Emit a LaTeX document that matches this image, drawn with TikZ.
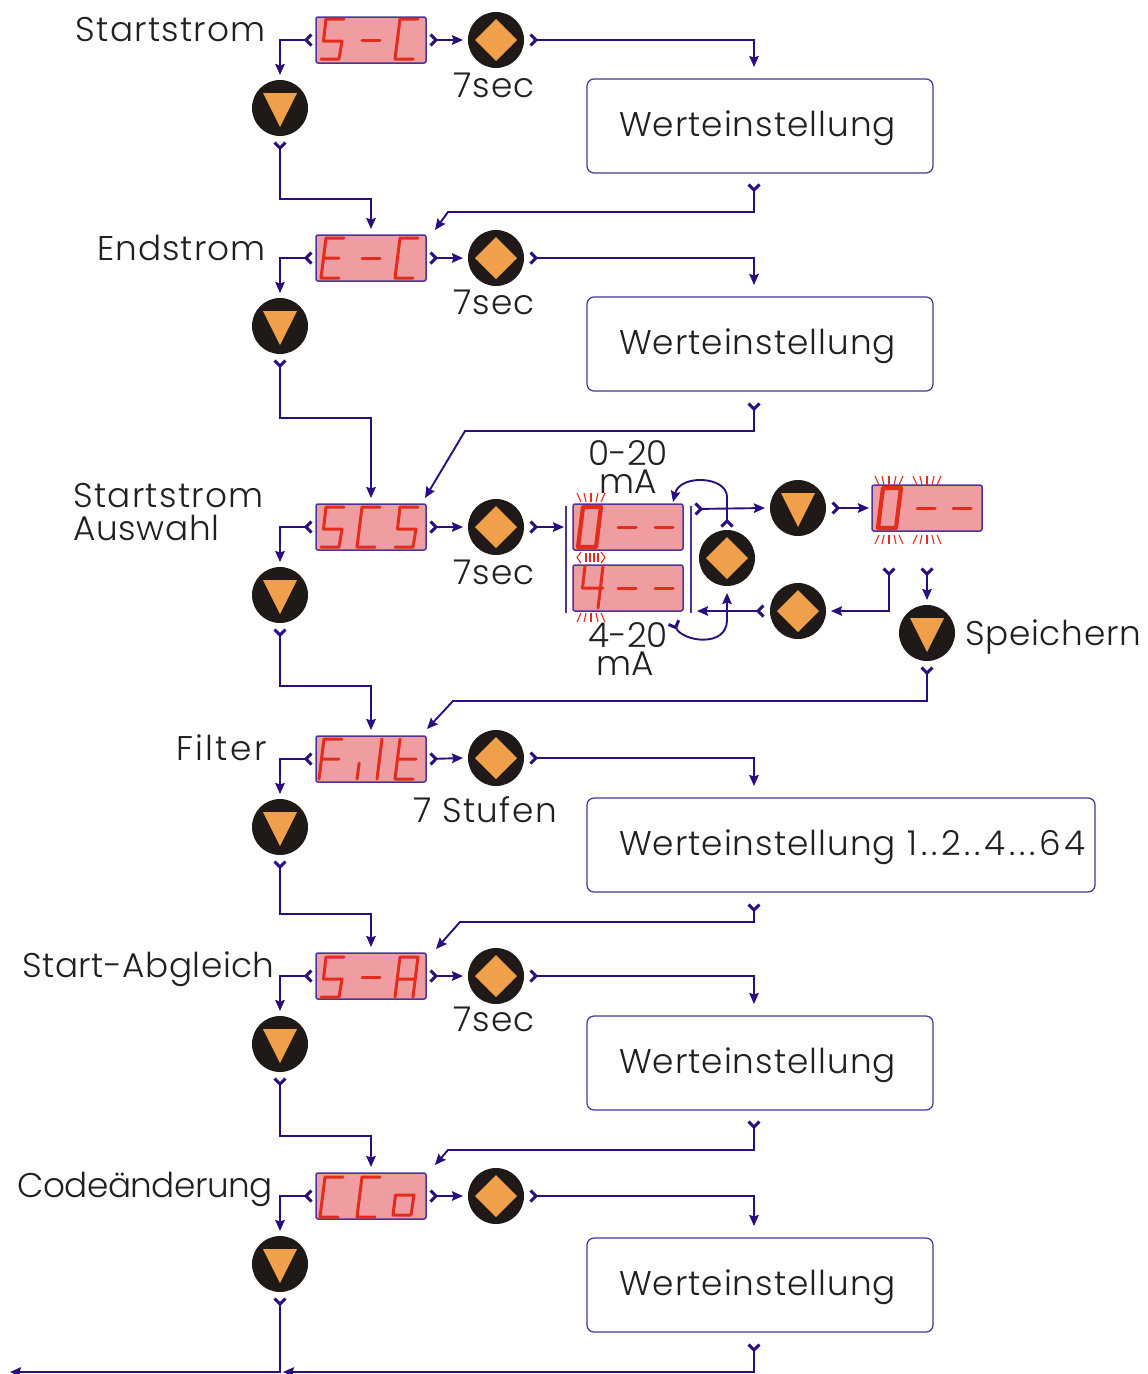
\documentclass[tikz,border=0pt]{standalone}
\usepackage{fontspec}
\setmainfont{Poppins Light}
\usetikzlibrary{arrows.meta,calc}

\definecolor{flowblue}{HTML}{2A0E7F}
\definecolor{dispedge}{HTML}{4A3596}
\definecolor{dispfill}{HTML}{F09DA2}
\definecolor{segred}{HTML}{E12D1A}
\definecolor{btnblack}{HTML}{1F1A17}
\definecolor{btnorange}{HTML}{F0A04B}
\definecolor{labelgray}{HTML}{231F20}

\tikzset{
    chev/.tip={Straight Barb[reversed,length=1.1mm,width=2.2mm,line width=.6mm]},
    head/.tip={Stealth[length=2.2mm,width=1.9mm,inset=.3mm]},
    flow/.style={draw=flowblue,line width=.38mm,{chev}-{head}},
    display/.style={rectangle,draw=dispedge,fill=dispfill,line width=.3mm,rounded corners=.4mm,
                    minimum width=22mm,minimum height=9.2mm,inner sep=0pt,outer sep=.6mm},
    seg/.style={draw=segred,line width=.6mm,line cap=round,line join=round},
    ray/.style={draw=segred,line width=.22mm},
    downbtn/.style={circle,fill=btnblack,minimum size=11.2mm,inner sep=0pt,outer sep=1mm,
                    path picture={\fill[btnorange]
                        ([shift={(-17,-15)}]path picture bounding box.center) --
                        ([shift={(17,-15)}]path picture bounding box.center) --
                        ([shift={(0,19)}]path picture bounding box.center) -- cycle;}},
    setbtn/.style={circle,fill=btnblack,minimum size=11.2mm,inner sep=0pt,outer sep=1mm,
                    path picture={\fill[btnorange]
                        ([shift={(-21,0)}]path picture bounding box.center) --
                        ([shift={(0,-21)}]path picture bounding box.center) --
                        ([shift={(21,0)}]path picture bounding box.center) --
                        ([shift={(0,21)}]path picture bounding box.center) -- cycle;}},
    wertbox/.style={rectangle,draw=dispedge,line width=.25mm,rounded corners=1.4mm,fill=white,
                    text width=56.4mm,inner xsep=6.4mm,minimum height=18.8mm,align=left,text height=5.9mm,
                    font=\fontsize{19.5pt}{23pt}\selectfont\addfontfeatures{LetterSpace=3},text=labelgray},
    caption/.style={font=\fontsize{19.5pt}{18.4pt}\selectfont\addfontfeatures{LetterSpace=#1},
                    text=labelgray,inner sep=0pt},
    caption/.default=3,
    rangecap/.style={font=\fontsize{19.5pt}{15.4pt}\selectfont,text=labelgray,inner sep=0pt,align=center},
    % seven segment glyphs, top left corner at the pic origin
    segS/.pic={\draw[seg] (23,0) -- (5,0) -- (2.5,22) -- (21,22) -- (18,40) -- (0,40);},
    segM/.pic={\draw[seg] (0,21) -- (18,21);},
    segC/.pic={\draw[seg] (23,0) -- (5,0) -- (0,40) -- (18,40);},
    segE/.pic={\draw[seg] (23,0) -- (5,0) -- (0,40) -- (18,40) (2.5,20) -- (18,20);},
    segF/.pic={\draw[seg] (23,0) -- (5,0) -- (0,40) (2.5,20) -- (20,20);},
    segI/.pic={\draw[seg] (2.2,24) -- (0,40);},
    segL/.pic={\draw[seg] (5,0) -- (0,40);},
    segT/.pic={\draw[seg] (5,0) -- (0,40) -- (18,40) (2.5,20) -- (21,20);},
    segA/.pic={\draw[seg] (0,40) -- (5,0) -- (23,0) -- (18,40) (2.5,22) -- (20.5,22);},
    segO/.pic={\draw[seg] (2.5,20) -- (21,20) -- (18,40) -- (0,40) -- cycle;},
    segN/.pic={\draw[seg,line width=.85mm] (5,0) -- (23,0) -- (18,40) -- (0,40) -- cycle;},
    segV/.pic={\draw[seg] (5,0) -- (2.5,22) -- (23,22) (23,0) -- (18,42);},
}
% fan of short rays round a blinking digit
\newcommand{\rayfan}[3]{
    \foreach \ddx/\dtx in {-10/-14,-5/-7,0/0,5/7,10/14}
        \draw[ray] (#1+\ddx,#2) -- (#1+\dtx,#2+#3);
}

\begin{document}
\begin{tikzpicture}[x=.2mm,y=-.2mm]
    \useasboundingbox (0,0) rectangle (1147,1374);

    % left column captions
    \node at (266, 30) (cstart)  [caption=3.6,anchor=east] {Startstrom};
    \node at (266,248) (cend)    [caption=3,anchor=east] {Endstrom};
    \node at ( 73,512) (csel)    [caption=3.8,anchor=west,align=left] {Startstrom\\{\addfontfeatures{LetterSpace=2}Auswahl}};
    \node at (267,748) (cfilt)   [caption=7,anchor=east] {Filter};
    \node at (275,969) (cadj)    [caption=1.5,anchor=east] {Start-Abgleich};
    \node at (273,1189) (ccode)  [caption=-1.5,anchor=east] {Codeänderung};

    % displays
    \node at (371,  40) (dsc)  [display] {};
    \node at (371, 258) (dec)  [display] {};
    \node at (371, 527) (dscs) [display] {};
    \node at (371, 759) (dfilt)[display] {};
    \node at (371, 976) (dsa)  [display] {};
    \node at (371,1196) (dcco) [display] {};
    \node at (628, 527) (dnull)[display] {};
    \node at (628, 588) (dvier)[display] {};
    \node at (927, 508) (dblink)[display] {};

    \pic at (321,  19) {segS}; \pic at (362,  19) {segM}; \pic at (395,  19) {segC};
    \pic at (321, 238) {segE}; \pic at (362, 237) {segM}; \pic at (395, 238) {segC};
    \pic at (321, 507) {segS}; \pic at (357, 507) {segC}; \pic at (395, 507) {segS};
    \pic at (319, 739) {segF}; \pic at (357, 739) {segI}; \pic at (377, 739) {segL}; \pic at (395, 739) {segT};
    \pic at (321, 957) {segS}; \pic at (362, 956) {segM}; \pic at (395, 957) {segA};
    \pic at (320,1177) {segC}; \pic at (357,1177) {segC}; \pic at (393,1175) {segO};

    \pic at (578, 507) {segN}; \pic at (618, 506) {segM}; \pic at (655, 506) {segM};
    \pic at (580, 566) {segV}; \pic at (618, 567) {segM}; \pic at (655, 567) {segM};
    \pic at (878, 488) {segN}; \pic at (917, 487) {segM}; \pic at (953, 487) {segM};

    \rayfan{591}{502}{-9}
    \rayfan{591}{613}{9}
    \rayfan{889}{485}{-9}
    \rayfan{927}{485}{-9}
    \rayfan{889}{535}{9}
    \rayfan{927}{535}{9}
    \draw[ray] (581,552) -- (577,557.5) -- (581,563) (601,552) -- (605,557.5) -- (601,563);
    \foreach \rx in {586,590,594,598}
        \draw[ray] (\rx,553) -- (\rx,562);

    % brackets round the two range displays
    \draw[dispedge,line width=.3mm] (566,506) -- (566,613) (691,506) -- (691,613);

    % buttons
    \node at (280, 108) (bd1) [downbtn] {};
    \node at (280, 326) (bd2) [downbtn] {};
    \node at (280, 595) (bd3) [downbtn] {};
    \node at (280, 827) (bd4) [downbtn] {};
    \node at (280,1044) (bd5) [downbtn] {};
    \node at (280,1264) (bd6) [downbtn] {};
    \node at (496,  40) (bs1) [setbtn] {};
    \node at (496, 258) (bs2) [setbtn] {};
    \node at (496, 527) (bs3) [setbtn] {};
    \node at (496, 758) (bs4) [setbtn] {};
    \node at (496, 976) (bs5) [setbtn] {};
    \node at (496,1196) (bs6) [setbtn] {};
    \node at (727, 558) (bsmid) [setbtn] {};
    \node at (798, 611) (bslow) [setbtn] {};
    \node at (798, 508) (bdup)  [downbtn] {};
    \node at (927, 633) (bdsave)[downbtn] {};

    % value boxes
    \node at (760, 126) (w1) [wertbox] {Werteinstellung};
    \node at (760, 344) (w2) [wertbox] {Werteinstellung};
    \node at (841, 845) (w4) [wertbox,text width=88.8mm] {\mbox{Werteinstellung {\addfontfeatures{LetterSpace=11}1..2..4...64}}};
    \node at (760,1063) (w5) [wertbox] {Werteinstellung};
    \node at (760,1285) (w6) [wertbox] {Werteinstellung};

    % other labels
    \node at (494,  85) (t1) [caption] {7sec};
    \node at (494, 302) (t2) [caption] {7sec};
    \node at (494, 572) (t3) [caption] {7sec};
    \node at (485, 810) (t4) [caption=4] {7 Stufen};
    \node at (494,1019) (t5) [caption] {7sec};
    \node at (628, 467) (tnull) [rangecap] {0-20\\mA};
    \node at (628, 649) (tvier) [rangecap] {4-20\\mA\hspace*{1mm}};
    \node at (965, 637) (tsave) [caption=2,anchor=west] {Speichern};

    % free ends of the connectors
    \coordinate (w1in)  at (754,  67);
    \coordinate (w1out) at (754, 183);
    \coordinate (w2in)  at (754, 285);
    \coordinate (w2out) at (754, 402);
    \coordinate (w4in)  at (754, 786);
    \coordinate (w4out) at (754, 903);
    \coordinate (w5in)  at (754,1004);
    \coordinate (w5out) at (754,1120);
    \coordinate (w6in)  at (754,1226);
    \coordinate (w6out) at (754,1343);
    \coordinate (ecin)  at (435, 230);
    \coordinate (scsin) at (425, 498);
    \coordinate (ftin)  at (427, 729);
    \coordinate (sain)  at (436, 949);
    \coordinate (ccin)  at (435,1165);
    \coordinate (exit)  at (10,1372);
    \coordinate (merge) at (283,1372);
    \coordinate (rngin) at (564, 527);
    \coordinate (rngout) at (694, 509);
    \coordinate (rngback) at (697, 611);
    \coordinate (upin)   at (673, 502);
    \coordinate (upout)  at (727, 528);
    \coordinate (lowout) at (673, 621);
    \coordinate (lowin)  at (727, 593);
    \coordinate (blinka) at (889, 567);
    \coordinate (blinkb) at (927, 567);

    % display to down button
    \draw[flow] (dsc.west)   -| (bd1.north);
    \draw[flow] (dec.west)   -| (bd2.north);
    \draw[flow] (dscs.west)  -| (bd3.north);
    \draw[flow] (dfilt.west) -| (bd4.north);
    \draw[flow] (dsa.west)   -| (bd5.north);
    \draw[flow] (dcco.west)  -| (bd6.north);

    % display to set button
    \draw[flow] (dsc.east)   -- (bs1.west);
    \draw[flow] (dec.east)   -- (bs2.west);
    \draw[flow] (dscs.east)  -- (bs3.west);
    \draw[flow] (dfilt.east) -- (bs4.west);
    \draw[flow] (dsa.east)   -- (bs5.west);
    \draw[flow] (dcco.east)  -- (bs6.west);

    % set button to value box
    \draw[flow] (bs1.east) -| (w1in);
    \draw[flow] (bs2.east) -| (w2in);
    \draw[flow] (bs4.east) -| (w4in);
    \draw[flow] (bs5.east) -| (w5in);
    \draw[flow] (bs6.east) -| (w6in);

    % down button to next display
    \draw[flow,shorten >=.6mm] (bd1.south) |- (371,199) -- (dec.north);
    \draw[flow,shorten >=.6mm] (bd2.south) |- (371,418) -- (dscs.north);
    \draw[flow,shorten >=.6mm] (bd3.south) |- (371,686) -- (dfilt.north);
    \draw[flow,shorten >=.6mm] (bd4.south) |- (371,914) -- (dsa.north);
    \draw[flow,shorten >=.6mm] (bd5.south) |- (371,1136) -- (dcco.north);
    \draw[flow] (bd6.south) |- (exit);

    % value box back to next display
    \draw[flow] (w1out) -- (754, 212) -- (448, 212) -- (ecin);
    \draw[flow] (w2out) -- (754, 431) -- (465, 431) -- (scsin);
    \draw[flow] (w4out) -- (754, 922) -- (460, 922) -- (sain);
    \draw[flow] (w5out) -- (754,1150) -- (448,1150) -- (ccin);
    \draw[flow] (w6out) |- (merge);

    % range selection
    \draw[flow] (bs3.east) -- (rngin);
    \draw[flow] (rngout) -- (bdup.west);
    \draw[flow] (bdup.east) -- (dblink.west);
    \draw[flow] (bslow.west) -- (rngback);
    \draw[flow] (upout) -- (727,497) .. controls (727,476) and (680,474) .. (upin);
    \draw[flow] (lowout) .. controls (682,642) and (727,648) .. (727,620) -- (lowin);
    \draw[flow] (blinka) |- (bslow.east);
    \draw[flow] (blinkb) -- (bdsave.north);
    \draw[flow] (bdsave.south) |- (453,701) -- (ftin);
\end{tikzpicture}
\end{document}
